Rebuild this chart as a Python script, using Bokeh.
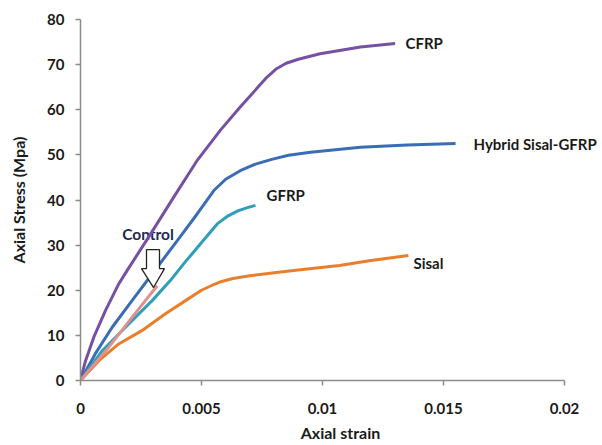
from bokeh.plotting import figure
from bokeh.models import Label, Range1d, FixedTicker, CustomJSTickFormatter
from bokeh.embed import file_html
from bokeh.resources import INLINE

# ---- data ----
cfrp_x = [0, 0.0001, 0.00021, 0.00055, 0.00103, 0.00158, 0.00193, 0.0029, 0.0038, 0.0048,
          0.0058, 0.0066, 0.0073, 0.0077, 0.0081, 0.0085, 0.0090, 0.0099, 0.01157, 0.0130]
cfrp_y = [0, 2.2, 4.4, 9.6, 15.5, 21.4, 24.4, 32.5, 40.2, 48.6,
          55.6, 60.6, 64.8, 67.2, 69.1, 70.3, 71.2, 72.4, 73.9, 74.7]

hybrid_x = [0, 0.00062, 0.00131, 0.00213, 0.0031, 0.0040, 0.00482, 0.00551, 0.0060, 0.0066,
            0.0072, 0.0079, 0.0086, 0.0095, 0.01157, 0.0135, 0.0155]
hybrid_y = [0, 6.0, 11.8, 17.7, 24.6, 31.0, 36.9, 42.1, 44.6, 46.5,
            47.9, 49.0, 49.9, 50.6, 51.7, 52.2, 52.5]

gfrp_x = [0, 0.0009, 0.00186, 0.00296, 0.00372, 0.00427, 0.00496, 0.00565, 0.0061, 0.0065,
          0.0069, 0.00723]
gfrp_y = [0, 6.6, 11.8, 17.7, 22.2, 25.9, 30.3, 34.7, 36.5, 37.6,
          38.3, 38.8]

sisal_x = [0, 0.00076, 0.00158, 0.00255, 0.00351, 0.00434, 0.005, 0.0054, 0.0058, 0.0063,
           0.0070, 0.0080, 0.009, 0.0107, 0.012, 0.01355]
sisal_y = [0, 4.4, 8.1, 11.1, 14.8, 17.7, 20.0, 21.0, 21.9, 22.6,
           23.2, 23.9, 24.5, 25.5, 26.6, 27.7]

control_x = [0, 0.00117, 0.00213, 0.00317]
control_y = [0, 7.4, 14.0, 21.0]

# hollow arrow pointing at the Control curve
arrow_x = [0.002727, 0.003264, 0.003264, 0.003471, 0.003017, 0.002521, 0.002727, 0.002727]
arrow_y = [29.0, 29.0, 24.8, 24.8, 20.6, 24.8, 24.8, 29.0]

x_ticks = [0, 0.005, 0.01, 0.015, 0.02]
x_tick_labels = ["0", "0.005", "0.01", "0.015", "0.02"]
y_ticks = [0, 10, 20, 30, 40, 50, 60, 70, 80]

series_labels = [
    ("CFRP", 0.01343, 74.7),
    ("Hybrid Sisal-GFRP", 0.01624, 52.5),
    ("GFRP", 0.00769, 41.0),
    ("Sisal", 0.01376, 26.1),
]

FONT = "Lato"
AXIS_COL = "#8c8c8c"

p = figure(width=600, height=445, output_backend="svg", toolbar_location=None,
           x_range=Range1d(0, 0.021488), y_range=Range1d(0, 80),
           min_border_left=80, min_border_right=0, min_border_top=19, min_border_bottom=65)
p.outline_line_color = None
p.xgrid.visible = False
p.ygrid.visible = False

p.add_layout(Label(x=0.00279, y=32.4, text="Control", text_font=FONT, text_font_style="bold",
                   text_font_size="15.5px", text_color="#1f2a50", level="underlay",
                   text_baseline="middle", text_align="center"))

p.line(cfrp_x, cfrp_y, line_color="#7651a2", line_width=3)
p.line(hybrid_x, hybrid_y, line_color="#3b6db4", line_width=3)
p.line(gfrp_x, gfrp_y, line_color="#2e9fb6", line_width=3)
p.line(sisal_x, sisal_y, line_color="#e97f2c", line_width=3)
p.line(control_x, control_y, line_color="#e0908e", line_width=3)

p.patch(arrow_x, arrow_y, fill_color="white", line_color="#222222", line_width=1.3)

for txt, lx, ly in series_labels:
    p.add_layout(Label(x=lx, y=ly, text=txt, text_font=FONT, text_font_style="bold",
                       text_font_size="15px", text_color="#1a1a1a",
                       text_baseline="middle", text_align="left"))

p.xaxis.ticker = FixedTicker(ticks=x_ticks)
p.xaxis.formatter = CustomJSTickFormatter(args=dict(tvals=x_ticks, tlabs=x_tick_labels), code="""
    for (let i = 0; i < tvals.length; i++) { if (Math.abs(tvals[i] - tick) < 1e-9) return tlabs[i]; }
    return String(tick);
""")
p.xaxis.bounds = (0, 0.02)
p.yaxis.ticker = FixedTicker(ticks=y_ticks)

for ax in (p.xaxis[0], p.yaxis[0]):
    ax.axis_line_color = AXIS_COL
    ax.axis_line_width = 1.5
    ax.major_tick_line_color = AXIS_COL
    ax.major_tick_line_width = 1.5
    ax.major_tick_out = 5
    ax.major_tick_in = 0
    ax.minor_tick_line_color = None
    ax.major_label_text_font = FONT
    ax.major_label_text_font_style = "bold"
    ax.major_label_text_font_size = "15px"
    ax.major_label_text_color = "#1a1a1a"
    ax.axis_label_text_font = FONT
    ax.axis_label_text_font_style = "bold"
    ax.axis_label_text_font_size = "16px"
    ax.axis_label_text_color = "#1a1a1a"

p.xaxis.axis_label = "Axial strain"
p.yaxis.axis_label = "Axial Stress (Mpa)"
p.xaxis.major_label_standoff = 17
p.xaxis.axis_label_standoff = 6
p.yaxis.major_label_standoff = 11
p.yaxis.axis_label_standoff = 16

open("out.html", "w").write(file_html(p, INLINE))
